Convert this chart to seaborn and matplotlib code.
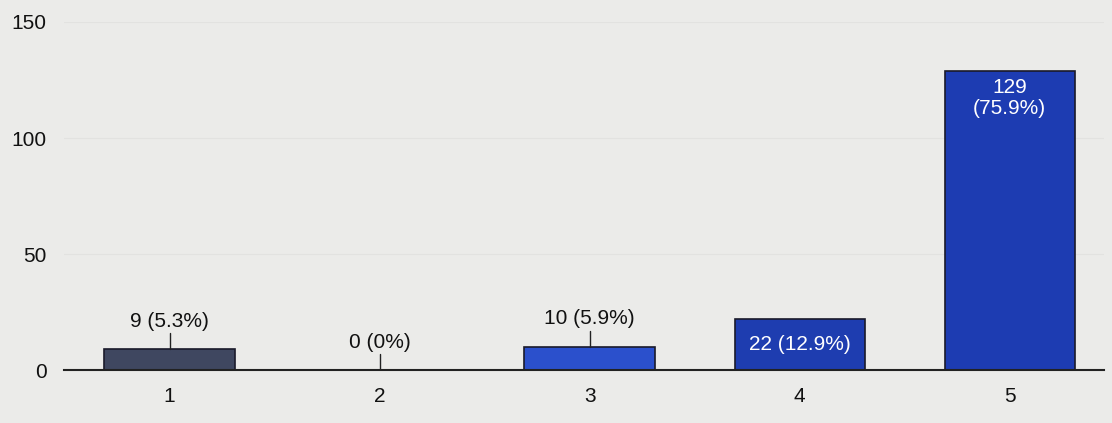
import matplotlib
matplotlib.use("Agg")
import matplotlib.pyplot as plt
import seaborn as sns
import pandas as pd

ratings = ["1", "2", "3", "4", "5"]
counts = [9, 0, 10, 22, 129]
percents = ["5.3%", "0%", "5.9%", "12.9%", "75.9%"]
bar_colors = ["#3f4760", "#3f4760", "#2b50cc", "#1e3db0", "#1d3cb2"]

df = pd.DataFrame({"rating": ratings, "count": counts})

sns.set_style("white")
plt.rcParams["font.family"] = ["Liberation Sans", "DejaVu Sans"]

bg = "#ebebe9"
fig = plt.figure(figsize=(11.12, 4.23), dpi=100, facecolor=bg)
ax = fig.add_axes([0.058, 0.125, 0.935, 0.823])
ax.set_facecolor(bg)

sns.barplot(data=df, x="rating", y="count", hue="rating", palette=bar_colors,
            legend=False, width=0.62, edgecolor="#1a1a2a", linewidth=1.2,
            saturation=1, ax=ax)

ax.set_ylim(0, 150)
ax.set_xlim(-0.5, 4.45)
ax.set_yticks([0, 50, 100, 150])
ax.grid(axis="y", color="#e2e2e0", linewidth=0.8)
ax.set_axisbelow(True)
for s in ["top", "right", "left"]:
    ax.spines[s].set_visible(False)
ax.spines["bottom"].set_color("#222222")
ax.spines["bottom"].set_linewidth(1.5)
ax.tick_params(axis="both", length=0, labelsize=15, colors="#111111")
ax.tick_params(axis="y", pad=13)
ax.tick_params(axis="x", pad=12)
ax.set_xlabel("")
ax.set_ylabel("")

for i, (c, p) in enumerate(zip(counts, percents)):
    if c < 15:
        ax.plot([i, i], [c, c + 7], color="#222222", lw=1)
        ax.text(i, c + 8, f"{c} ({p})", ha="center", va="bottom",
                fontsize=15, color="#111111")
    elif c < 60:
        ax.text(i, c / 2, f"{c} ({p})", ha="center", va="center",
                fontsize=15, color="white")
    else:
        ax.text(i, c - 3, f"{c}\n({p})", ha="center", va="top",
                fontsize=15, color="white", linespacing=1.15)

fig.savefig("out.png", dpi=100, facecolor=bg)
